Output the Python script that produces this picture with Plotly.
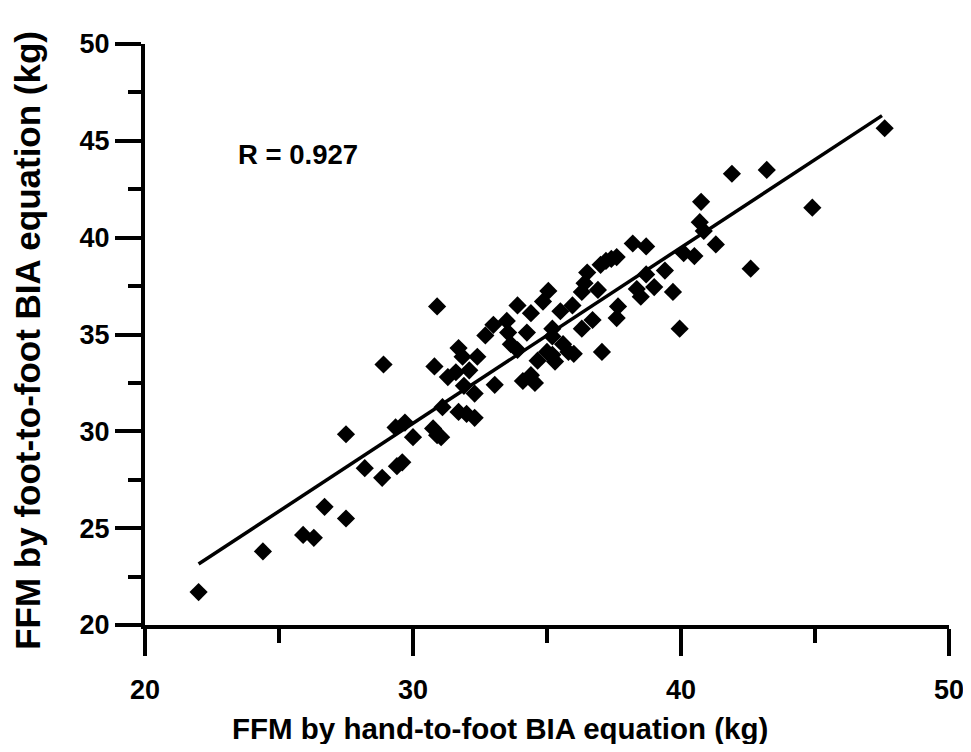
import plotly.graph_objects as go

# FFM by hand-to-foot BIA equation (kg)
hand_to_foot = [
    22.0, 24.4, 25.9, 26.3, 26.7, 27.5, 27.5, 28.2, 28.85, 28.9,
    29.4, 29.6, 29.35, 29.7, 30.0, 30.75, 30.9, 31.05, 30.9, 30.8,
    31.1, 31.3, 31.7, 31.85, 31.6, 31.7, 31.9, 32.0, 32.1, 32.3,
    32.3, 32.4, 32.7, 33.0, 33.05, 33.5, 33.55, 33.65, 33.9, 33.9,
    34.1, 34.25, 34.4, 34.4, 34.55, 34.65, 34.85, 35.05, 35.0, 35.2,
    35.2, 35.3, 35.2, 35.5, 35.6, 35.8, 36.0, 35.95, 36.3, 36.3,
    36.4, 36.5, 36.7, 36.9, 37.0, 37.05, 37.2, 37.4, 37.6, 37.6,
    37.65, 38.2, 38.35, 38.5, 38.7, 38.7, 39.0, 39.4, 39.7, 39.95,
    40.1, 40.5, 40.7, 40.75, 40.85, 41.3, 41.9, 42.6, 43.2, 44.9,
    47.6,
]
# FFM by foot-to-foot BIA equation (kg)
foot_to_foot = [
    21.7, 23.8, 24.65, 24.5, 26.1, 25.5, 29.85, 28.1, 27.6, 33.45,
    28.2, 28.4, 30.2, 30.45, 29.7, 30.15, 29.8, 29.7, 36.45, 33.35,
    31.25, 32.8, 34.3, 33.85, 33.05, 31.0, 32.35, 30.9, 33.15, 31.95,
    30.7, 33.85, 34.95, 35.5, 32.4, 35.7, 35.1, 34.5, 36.5, 34.2,
    32.6, 35.1, 36.1, 32.9, 32.5, 33.65, 36.7, 37.25, 34.1, 35.3,
    34.9, 33.6, 33.95, 36.2, 34.5, 34.1, 34.0, 36.5, 35.3, 37.2,
    37.65, 38.2, 35.75, 37.3, 38.6, 34.1, 38.8, 38.9, 39.0, 35.85,
    36.45, 39.7, 37.35, 36.95, 38.1, 39.55, 37.45, 38.3, 37.2, 35.3,
    39.2, 39.05, 40.8, 41.85, 40.35, 39.65, 43.3, 38.4, 43.5, 41.55,
    45.65,
]
# regression line end points
fit_x = [22.0, 47.5]
fit_y = [23.15, 46.3]

r_label = "R = 0.927"
x_title = "FFM by hand-to-foot BIA equation (kg)"
y_title = "FFM by foot-to-foot BIA equation (kg)"
x_ticks = [20, 30, 40, 50]
y_ticks = [20, 25, 30, 35, 40, 45, 50]

FONT = "Liberation Sans, Arial, sans-serif"

fig = go.Figure()
fig.add_trace(go.Scatter(
    x=fit_x, y=fit_y, mode="lines",
    line=dict(color="black", width=3.5), showlegend=False, hoverinfo="skip",
))
fig.add_trace(go.Scatter(
    x=hand_to_foot, y=foot_to_foot, mode="markers",
    marker=dict(symbol="diamond", size=14, color="black", line=dict(width=0)),
    showlegend=False,
))

fig.add_annotation(
    x=23.4, y=44.3, xref="x", yref="y", text=f"<b>{r_label}</b>",
    showarrow=False, xanchor="left", yanchor="middle",
    font=dict(family=FONT, size=27.5, color="black"),
)
# axis titles
fig.add_annotation(
    x=0.4415, y=-0.179, xref="paper", yref="paper", text=f"<b>{x_title}</b>",
    showarrow=False, xanchor="center", yanchor="middle",
    font=dict(family=FONT, size=29.5, color="black"),
)
fig.add_annotation(
    x=-0.147, y=0.4905, xref="paper", yref="paper", text=f"<b>{y_title}</b>",
    showarrow=False, xanchor="center", yanchor="middle", textangle=-90,
    font=dict(family=FONT, size=35, color="black"),
)

fig.update_layout(
    width=955, height=736,
    margin=dict(l=137, r=14, t=36, b=119),
    paper_bgcolor="white", plot_bgcolor="white",
    font=dict(family=FONT, color="black"),
)
fig.update_xaxes(
    range=[20, 50], tickvals=x_ticks, ticktext=[f"<b>{v}</b>" for v in x_ticks],
    ticks="outside", ticklen=27, tickwidth=3.5, tickcolor="black",
    minor=dict(dtick=5, tick0=20, ticks="outside", ticklen=14, tickwidth=3.5, tickcolor="black", showgrid=False),
    showline=True, linewidth=4, linecolor="black", showgrid=False, zeroline=False,
    tickfont=dict(family=FONT, size=27, color="black"),
    ticklabelstandoff=11, automargin=False, ticklabeloverflow="allow",
)
fig.update_yaxes(
    range=[20, 50], tickvals=y_ticks, ticktext=[f"<b>{v}</b>" for v in y_ticks],
    ticks="outside", ticklen=26, tickwidth=3.5, tickcolor="black",
    minor=dict(dtick=2.5, tick0=20, ticks="outside", ticklen=13, tickwidth=3.5, tickcolor="black", showgrid=False),
    showline=True, linewidth=4, linecolor="black", showgrid=False, zeroline=False,
    tickfont=dict(family=FONT, size=27, color="black"), automargin=False,
    ticklabelstandoff=0, ticklabeloverflow="allow",
)

fig.write_html("out.html")
